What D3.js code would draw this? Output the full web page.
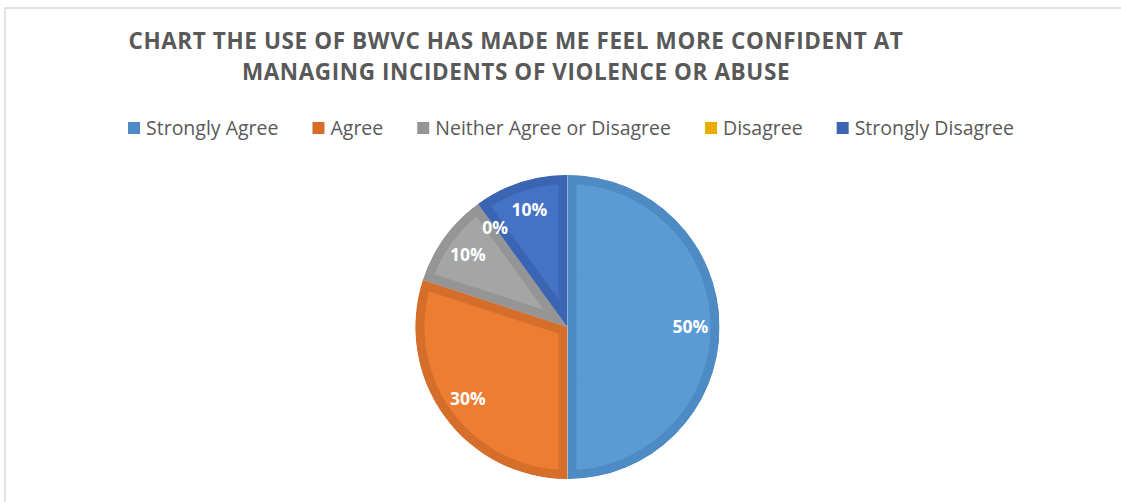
<!DOCTYPE html>
<html>
<head>
<meta charset="utf-8">
<script src="https://cdn.jsdelivr.net/npm/d3@7"></script>
<style>
  html, body { margin: 0; padding: 0; background: #fff; }
  svg { display: block; }
  text { font-family: "Open Sans", "Noto Sans", sans-serif; }
</style>
</head>
<body>
<svg id="chart" width="1121" height="502"></svg>
<script>
// Survey responses
const categories = ["Strongly Agree", "Agree", "Neither Agree or Disagree", "Disagree", "Strongly Disagree"];
const shares = [50, 30, 10, 0, 10];
const fills = ["#5B9BD5", "#ED7D31", "#A5A5A5", "#FFC000", "#4472C4"];
const edges = ["#4E8AC3", "#D66E2B", "#959595", "#E6AC00", "#3B65B2"];
const titleLines = [
  "CHART THE USE OF BWVC HAS MADE ME FEEL MORE CONFIDENT AT",
  "MANAGING INCIDENTS OF VIOLENCE OR ABUSE"
];

const W = 1121, H = 502;
const svg = d3.select("#chart");

// chart area frame
svg.append("rect")
  .attr("x", 5).attr("y", 8)
  .attr("width", W + 50).attr("height", H + 50)
  .attr("fill", "#fff")
  .attr("stroke", "#D9D9D9").attr("stroke-width", 1.5);

// title
svg.append("g").selectAll("text")
  .data(titleLines)
  .join("text")
  .attr("x", 516)
  .attr("y", (d, i) => 49 + i * 31)
  .attr("text-anchor", "middle")
  .attr("font-size", 22.5)
  .attr("font-weight", 700)
  .attr("letter-spacing", 0.6)
  .attr("fill", "#595959")
  .text(d => d);

// legend
const legend = svg.append("g");
const items = legend.selectAll("g").data(categories).join("g");
items.append("rect")
  .attr("width", 12).attr("height", 12)
  .attr("y", -6)
  .attr("fill", (d, i) => edges[i]);
items.append("text")
  .attr("x", 18).attr("y", 0)
  .attr("dy", "0.35em")
  .attr("font-size", 19.5)
  .attr("fill", "#595959")
  .text(d => d);
let offset = 0;
const gap = 34;
items.each(function () {
  const w = this.getBBox().width;
  d3.select(this).attr("transform", `translate(${offset},0)`);
  offset += w + gap;
});
const legendWidth = offset - gap;
legend.attr("transform", `translate(${571 - legendWidth / 2},128)`);

// pie
const cx = 567.5, cy = 327, R = 152, border = 9;
const pie = d3.pie().sort(null).value(d => d)(shares);
const arc = d3.arc().innerRadius(0).outerRadius(R);
const labelArc = d3.arc().innerRadius(123).outerRadius(123);

const g = svg.append("g").attr("transform", `translate(${cx},${cy})`);
const defs = svg.append("defs");
pie.forEach((p, i) => {
  defs.append("clipPath").attr("id", "slice" + i)
    .append("path").attr("d", arc(p));
});

g.selectAll("path.slice")
  .data(pie)
  .join("path")
  .attr("class", "slice")
  .attr("d", arc)
  .attr("fill", (d, i) => fills[i])
  .attr("stroke", (d, i) => edges[i])
  .attr("stroke-width", border * 2)
  .attr("stroke-linejoin", "miter")
  .attr("clip-path", (d, i) => `url(#slice${i})`);

g.selectAll("text.lbl")
  .data(pie)
  .join("text")
  .attr("class", "lbl")
  .attr("transform", d => `translate(${labelArc.centroid(d)})`)
  .attr("text-anchor", "middle")
  .attr("dy", "0.35em")
  .attr("font-size", 17.5)
  .attr("font-weight", 700)
  .attr("fill", "#fff")
  .text(d => d.data + "%");
</script>
</body>
</html>
